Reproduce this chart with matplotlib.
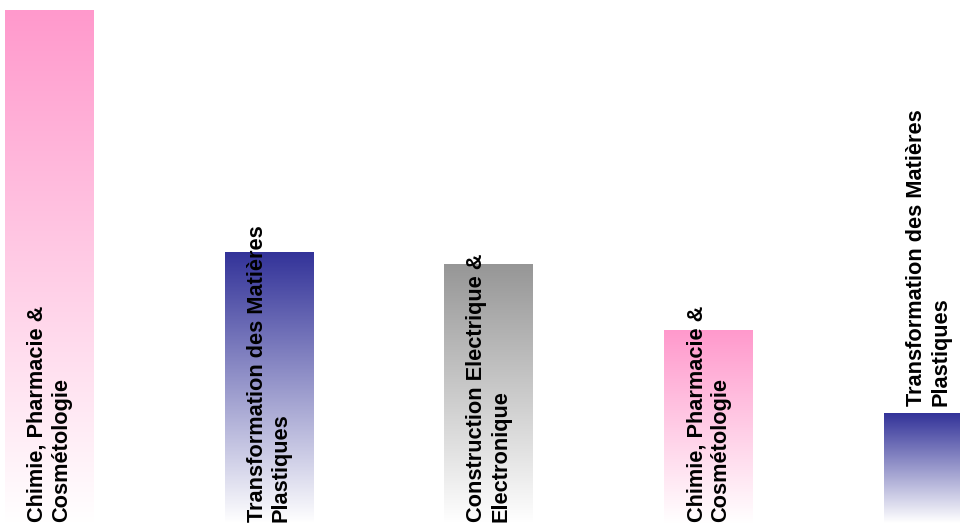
import numpy as np
import matplotlib
matplotlib.use("Agg")
import matplotlib.pyplot as plt
from matplotlib.colors import LinearSegmentedColormap

# bar values (relative units)
labels = [
    "Chimie, Pharmacie &\nCosmétologie",
    "Transformation des Matières\nPlastiques",
    "Construction Electrique &\nElectronique",
    "Chimie, Pharmacie &\nCosmétologie",
    "Transformation des Matières\nPlastiques",
]
values = [100, 52.8, 50.5, 37.6, 21.4]
colors = ["#FF99CC", "#333399", "#969696", "#FF99CC", "#333399"]
# labels that sit above the bar instead of at its base
label_above = [False, False, False, False, True]


def main():
    fig = plt.figure(figsize=(9.6, 5.23), dpi=100)
    ax = fig.add_axes([0, 0, 1, 1])
    ax.set_axis_off()

    x = np.arange(len(values))
    width = 0.405
    bars = ax.bar(x, values, width=width, color="none", edgecolor="none")

    grad = np.linspace(0, 1, 256).reshape(-1, 1)
    for bar, col in zip(bars, colors):
        cmap = LinearSegmentedColormap.from_list("g", ["white", col])
        x0, y0 = bar.get_x(), bar.get_y()
        im = ax.imshow(grad, cmap=cmap, origin="lower", aspect="auto",
                       extent=[x0, x0 + bar.get_width(), y0, y0 + bar.get_height()],
                       interpolation="bilinear")
        im.set_clip_path(bar)

    for xi, v, lab, above in zip(x, values, labels, label_above):
        y = v + 1.5 if above else 0.1
        ax.text(xi, y, lab, rotation=90, ha="center", va="bottom",
                multialignment="left", fontsize=15.7, fontweight="bold",
                family=["Liberation Sans", "DejaVu Sans"], color="black")

    ax.set_xlim(-0.225, -0.225 + 960 / 219.75)
    ax.set_ylim(0, 100 * 523 / 513)

    fig.savefig("out.png", dpi=100)


if __name__ == "__main__":
    main()
